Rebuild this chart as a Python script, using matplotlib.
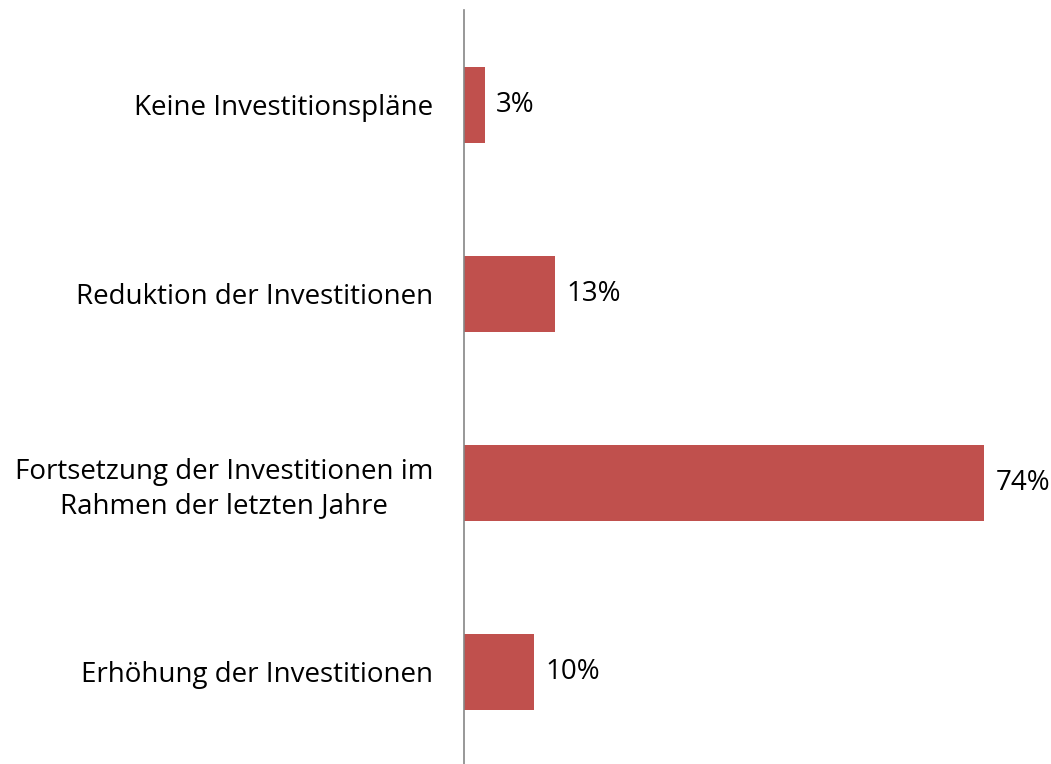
import matplotlib.pyplot as plt

categories = ["Keine Investitionspläne",
              "Reduktion der Investitionen",
              "Fortsetzung der Investitionen im\nRahmen der letzten Jahre",
              "Erhöhung der Investitionen"]
values = [3, 13, 74, 10]

plt.rcParams['font.family'] = ['Open Sans', 'DejaVu Sans']

fig = plt.figure(figsize=(10.51, 7.64), dpi=100)
ax = fig.add_axes([464 / 1051, -0.003, 0.55, 0.9895])

ypos = list(range(len(categories)))
ax.barh(ypos, values, height=0.4, color='#C0504D')
ax.set_ylim(len(categories) - 0.5, -0.5)
ax.set_xlim(0, 1051 * 0.55 / 7.03)

for y, v in zip(ypos, values):
    ax.annotate(f"{v}%", (v, y), xytext=(8, 0), textcoords='offset points',
                va='center', ha='left', fontsize=20, color='black')

ax.set_yticks(ypos)
ax.set_yticklabels(categories, fontsize=20, multialignment='center',
                   linespacing=1.3)
ax.tick_params(axis='y', length=0, pad=22)
ax.set_xticks([])
for s in ['top', 'right', 'bottom']:
    ax.spines[s].set_visible(False)
ax.spines['left'].set_color('#868686')
ax.spines['left'].set_linewidth(1.2)

fig.savefig('out.png', dpi=100)
